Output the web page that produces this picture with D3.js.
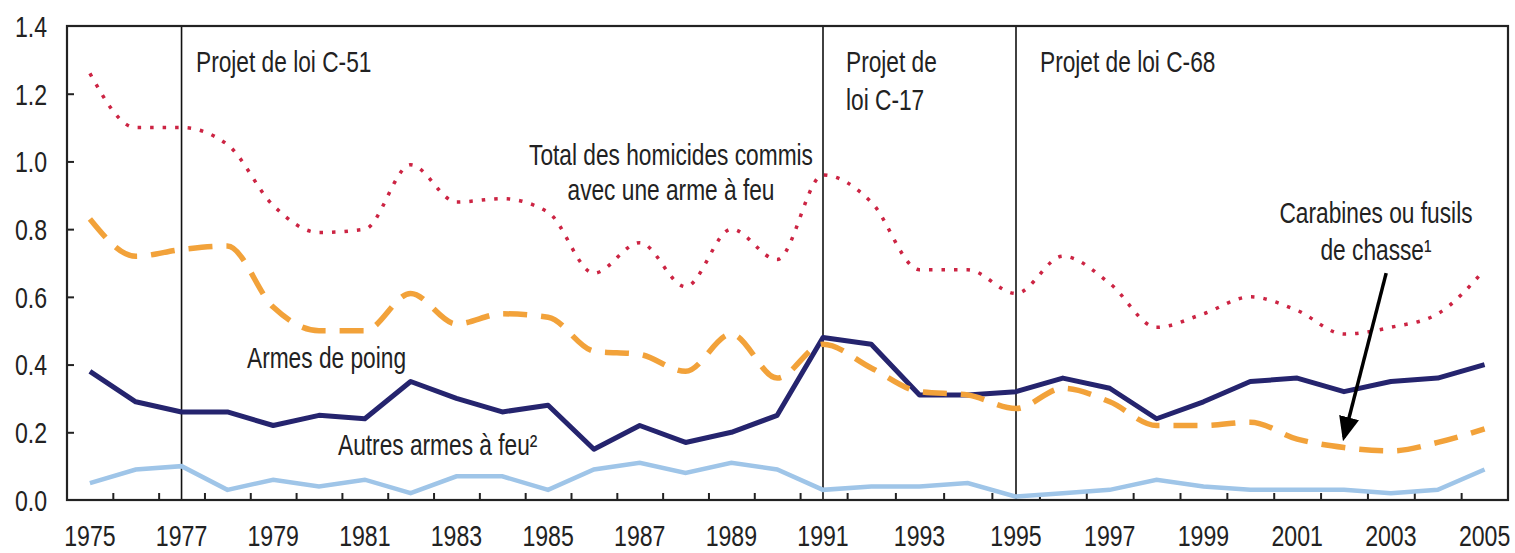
<!DOCTYPE html>
<html>
<head>
<meta charset="utf-8">
<script src="https://cdn.jsdelivr.net/npm/d3@7"></script>
<style>
  body { margin: 0; background: #fff; }
  svg text { font-family: "Liberation Sans", Arial, sans-serif; fill: #222; }
  .axis path { display: none; }
  .axis line { stroke: #222; stroke-width: 2; }
</style>
</head>
<body>
<div id="chart"></div>
<script>
// years shown on the chart
var years = [1975, 1976, 1977, 1978, 1979, 1980, 1981, 1982, 1983, 1984, 1985, 1986, 1987, 1988, 1989, 1990,
             1991, 1992, 1993, 1994, 1995, 1996, 1997, 1998, 1999, 2000, 2001, 2002, 2003, 2004, 2005];
// Total des homicides commis avec une arme à feu
var total = [1.26, 1.10, 1.10, 1.05, 0.87, 0.79, 0.80, 0.99, 0.88, 0.89, 0.85, 0.67, 0.76, 0.63, 0.80, 0.71,
             0.96, 0.88, 0.68, 0.68, 0.61, 0.72, 0.64, 0.51, 0.55, 0.60, 0.56, 0.49, 0.51, 0.55, 0.68];
// Carabines ou fusils de chasse
var rifles = [0.83, 0.72, 0.74, 0.75, 0.57, 0.50, 0.50, 0.61, 0.52, 0.55, 0.54, 0.44, 0.43, 0.38, 0.49, 0.36,
              0.46, 0.39, 0.32, 0.31, 0.27, 0.33, 0.29, 0.22, 0.22, 0.23, 0.18, 0.155, 0.145, 0.17, 0.21];
// Armes de poing
var handguns = [0.38, 0.29, 0.26, 0.26, 0.22, 0.25, 0.24, 0.35, 0.30, 0.26, 0.28, 0.15, 0.22, 0.17, 0.20, 0.25,
                0.48, 0.46, 0.31, 0.31, 0.32, 0.36, 0.33, 0.24, 0.29, 0.35, 0.36, 0.32, 0.35, 0.36, 0.40];
// Autres armes à feu
var other = [0.05, 0.09, 0.10, 0.03, 0.06, 0.04, 0.06, 0.02, 0.07, 0.07, 0.03, 0.09, 0.11, 0.08, 0.11, 0.09,
             0.03, 0.04, 0.04, 0.05, 0.01, 0.02, 0.03, 0.06, 0.04, 0.03, 0.03, 0.03, 0.02, 0.03, 0.09];
// years where a bill was introduced
var billYears = [1977, 1991, 1995];
var yTicks = [0.0, 0.2, 0.4, 0.6, 0.8, 1.0, 1.2, 1.4];
var xLabels = [1975, 1977, 1979, 1981, 1983, 1985, 1987, 1989, 1991, 1993, 1995, 1997, 1999, 2001, 2003, 2005];

function init() {
    var w = 1515, h = 553;
    var left = 67, right = 1508, top = 26, bottom = 500;
    var squeeze = 0.77; // the original uses a condensed face

    var svg = d3.select("#chart").append("svg").attr("width", w).attr("height", h);

    // the scan is a bit uneven, so the year scale has a couple of knots
    var xScale = d3.scaleLinear().domain([1974.5, 1991, 1995, 2005.5]).range([left, 823, 1016, right]);
    var yScale = d3.scaleLinear().domain([0, 1.4]).range([bottom, top]);

    // y axis, ticks pointing inside
    svg.append("g")
        .attr("class", "axis")
        .attr("transform", "translate(" + left + ",0)")
        .call(d3.axisLeft(yScale).tickValues(yTicks.slice(1, -1)).tickSize(-7).tickFormat(""));
    svg.append("g")
        .attr("transform", "translate(" + (left - 20) + ",0)")
        .selectAll("text").data(yTicks)
        .enter().append("text")
        .attr("transform", function (d) { return "translate(0," + yScale(d) + ") scale(" + squeeze + ",1)"; })
        .attr("dy", "0.36em").attr("text-anchor", "end")
        .style("font-size", "30px")
        .text(d3.format(".1f"));

    // x axis: ticks between years, labels every two years
    var halfYears = years.slice(0, -1).map(function (d) { return d + 0.5; });
    svg.append("g")
        .attr("class", "axis")
        .attr("transform", "translate(0," + bottom + ")")
        .call(d3.axisBottom(xScale).tickValues(halfYears).tickSize(-7).tickFormat(""));
    svg.append("g")
        .selectAll("text").data(xLabels)
        .enter().append("text")
        .attr("transform", function (d) { return "translate(" + xScale(d) + ",546) scale(" + squeeze + ",1)"; })
        .attr("text-anchor", "middle")
        .style("font-size", "30px")
        .text(d3.format("d"));

    // bill lines
    svg.append("g").selectAll("line").data(billYears)
        .enter().append("line")
        .attr("x1", function (d) { return xScale(d); })
        .attr("x2", function (d) { return xScale(d); })
        .attr("y1", top).attr("y2", bottom)
        .attr("stroke", "#111").attr("stroke-width", 1.6);

    var line = function (values, curve) {
        return d3.line()
            .x(function (d, i) { return xScale(years[i]); })
            .y(function (d) { return yScale(d); })
            .curve(curve)(values);
    };

    svg.append("path").attr("d", line(other, d3.curveLinear))
        .attr("fill", "none").attr("stroke", "#9fc5e8").attr("stroke-width", 4.5);
    svg.append("path").attr("d", line(handguns, d3.curveLinear))
        .attr("fill", "none").attr("stroke", "#25246e").attr("stroke-width", 5)
        .attr("stroke-linejoin", "round");
    svg.append("path").attr("d", line(rifles, d3.curveMonotoneX))
        .attr("fill", "none").attr("stroke", "#f2a23a").attr("stroke-width", 5.5)
        .attr("stroke-dasharray", "24,14");
    svg.append("path").attr("d", line(total, d3.curveMonotoneX))
        .attr("fill", "none").attr("stroke", "#cc2443").attr("stroke-width", 3.5)
        .attr("stroke-dasharray", "3.5,9");

    // frame
    svg.append("rect")
        .attr("x", left).attr("y", top)
        .attr("width", right - left).attr("height", bottom - top)
        .attr("fill", "none").attr("stroke", "#222").attr("stroke-width", 2.2);

    // annotations
    var labels = [
        {t: "Projet de loi C-51", x: 196, y: 72, a: "start"},
        {t: "Projet de", x: 846, y: 72, a: "start"},
        {t: "loi C-17", x: 846, y: 110, a: "start"},
        {t: "Projet de loi C-68", x: 1040, y: 72, a: "start"},
        {t: "Total des homicides commis", x: 671, y: 165, a: "middle"},
        {t: "avec une arme à feu", x: 671, y: 200, a: "middle"},
        {t: "Carabines ou fusils", x: 1376, y: 223, a: "middle"},
        {t: "de chasse\u00b9", x: 1376, y: 260, a: "middle"},
        {t: "Armes de poing", x: 247, y: 368, a: "start"},
        {t: "Autres armes à feu\u00b2", x: 338, y: 455, a: "start"}
    ];
    svg.append("g").selectAll("text").data(labels)
        .enter().append("text")
        .attr("transform", function (d) { return "translate(" + d.x + "," + d.y + ") scale(" + squeeze + ",1)"; })
        .attr("text-anchor", function (d) { return d.a; })
        .style("font-size", "29.5px")
        .text(function (d) { return d.t; });

    // arrow to the rifle line
    svg.append("defs").append("marker")
        .attr("id", "head").attr("viewBox", "0 0 12 10")
        .attr("refX", 10).attr("refY", 5)
        .attr("markerWidth", 7).attr("markerHeight", 6)
        .attr("orient", "auto")
        .append("path").attr("d", "M0,0L12,5L0,10z").attr("fill", "#000");
    svg.append("line")
        .attr("x1", xScale(2002.9)).attr("y1", yScale(0.67))
        .attr("x2", xScale(2002)).attr("y2", yScale(0.185))
        .attr("stroke", "#000").attr("stroke-width", 3.5)
        .attr("marker-end", "url(#head)");
}
window.onload = init;
</script>
</body>
</html>
